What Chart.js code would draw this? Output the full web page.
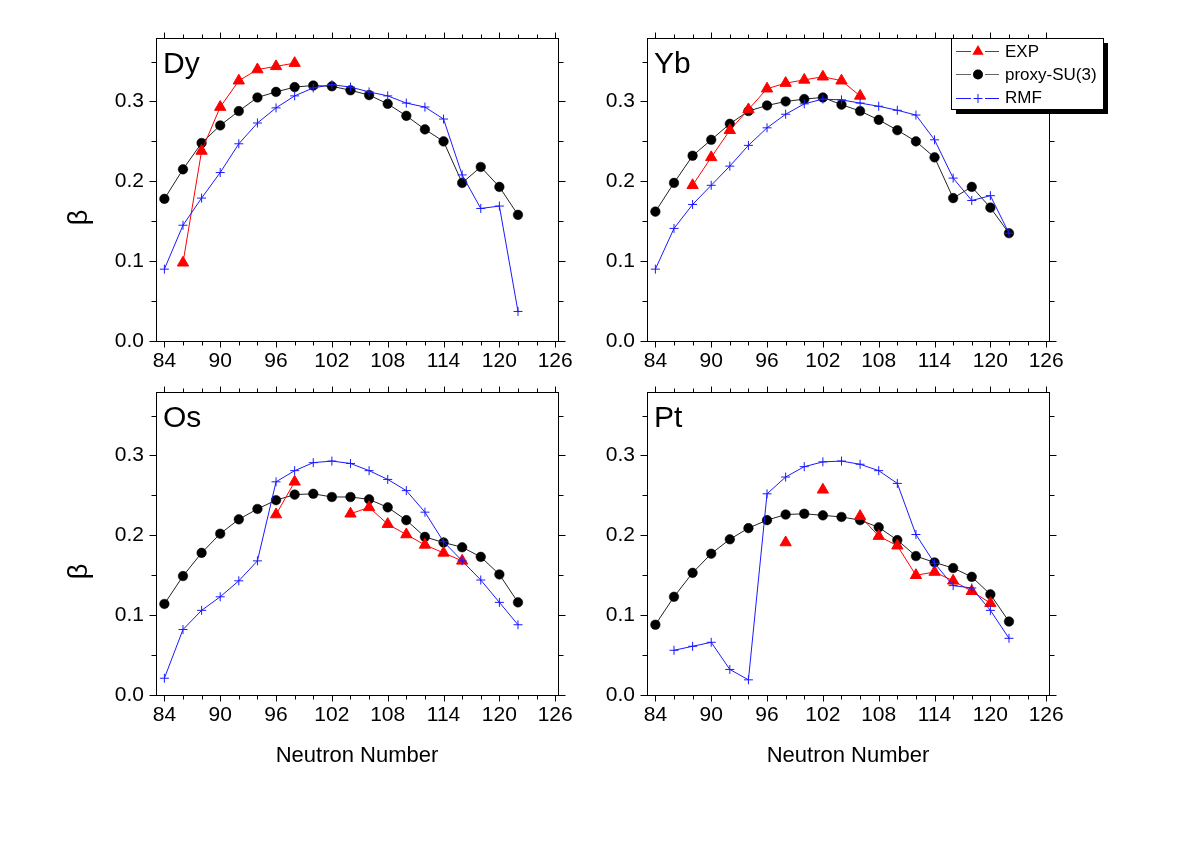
<!DOCTYPE html>
<html>
<head>
<meta charset="utf-8">
<script src="https://cdn.jsdelivr.net/npm/chart.js@4.4.1/dist/chart.umd.min.js"></script>
<style>
  body { margin: 0; background: #fff; }
  #wrap { position: relative; width: 1200px; height: 844px; overflow: hidden; background: #fff; }
  canvas { position: absolute; }
</style>
</head>
<body>
<div id="wrap">
  <canvas id="c-dy"></canvas>
  <canvas id="c-yb"></canvas>
  <canvas id="c-os"></canvas>
  <canvas id="c-pt"></canvas>
</div>
<script>
const FONT = '"Liberation Sans", Arial, Helvetica, sans-serif';

// neutron numbers of the calculated points
const neutrons = [84, 86, 88, 90, 92, 94, 96, 98, 100, 102, 104, 106, 108, 110, 112, 114, 116, 118, 120, 122];

// tick values
const xMajor = [84, 90, 96, 102, 108, 114, 120, 126];
const xMinor = [86, 88, 92, 94, 98, 100, 104, 106, 110, 112, 116, 118, 122, 124];
const yMajor = [0, 0.1, 0.2, 0.3];
const yMinor = [0.05, 0.15, 0.25, 0.35];

const seriesNames = ['EXP', 'proxy-SU(3)', 'RMF'];

// Dy
const dyExp   = [null, 0.098, 0.238, 0.293, 0.326, 0.340, 0.344, 0.348, null, null, null, null, null, null, null, null, null, null, null, null];
const dyProxy = [0.178, 0.215, 0.248, 0.270, 0.288, 0.305, 0.312, 0.318, 0.320, 0.319, 0.314, 0.308, 0.297, 0.282, 0.265, 0.250, 0.198, 0.218, 0.193, 0.158];
const dyRmf   = [0.090, 0.145, 0.179, 0.211, 0.247, 0.273, 0.292, 0.307, 0.317, 0.321, 0.318, 0.312, 0.307, 0.298, 0.293, 0.278, 0.208, 0.166, 0.169, 0.037];

// Yb
const ybExp   = [null, null, 0.195, 0.230, 0.264, 0.290, 0.316, 0.323, 0.327, 0.331, 0.326, 0.307, null, null, null, null, null, null, null, null];
const ybProxy = [0.162, 0.198, 0.232, 0.252, 0.272, 0.288, 0.295, 0.300, 0.303, 0.305, 0.296, 0.288, 0.277, 0.264, 0.250, 0.230, 0.179, 0.193, 0.167, 0.135];
const ybRmf   = [0.090, 0.141, 0.171, 0.195, 0.219, 0.245, 0.267, 0.284, 0.297, 0.303, 0.302, 0.298, 0.294, 0.289, 0.283, 0.252, 0.204, 0.176, 0.182, 0.135];

// Os
const osExp   = [null, null, null, null, null, null, 0.226, 0.267, null, null, 0.227, 0.235, 0.214, 0.201, 0.188, 0.178, 0.168, null, null, null];
const osProxy = [0.114, 0.149, 0.178, 0.202, 0.220, 0.233, 0.244, 0.251, 0.252, 0.248, 0.248, 0.245, 0.235, 0.219, 0.198, 0.191, 0.185, 0.173, 0.151, 0.116];
const osRmf   = [0.021, 0.082, 0.106, 0.123, 0.143, 0.168, 0.267, 0.281, 0.291, 0.293, 0.290, 0.281, 0.270, 0.256, 0.229, 0.192, 0.168, 0.144, 0.116, 0.088];

// Pt
const ptExp   = [null, null, null, null, null, null, null, 0.191, null, 0.257, null, 0.224, 0.199, 0.187, 0.150, 0.154, 0.143, 0.130, 0.115, null];
const ptProxy = [0.088, 0.123, 0.153, 0.177, 0.195, 0.209, 0.219, 0.226, 0.227, 0.225, 0.223, 0.219, 0.210, 0.194, 0.174, 0.166, 0.159, 0.148, 0.126, 0.092];
const ptRmf   = [null, 0.056, 0.061, 0.066, 0.032, 0.019, 0.252, 0.273, 0.286, 0.292, 0.293, 0.289, 0.281, 0.265, 0.201, 0.165, 0.137, 0.134, 0.106, 0.071];

const X_MIN = 83.1, X_MAX = 126.3, Y_MIN = 0, Y_MAX = 0.38;
const PLOT_W = 402, PLOT_H = 308;
const PAD = { l: 100, r: 70, t: 20, b: 80 };

const RED = '#ff0000', BLUE = '#1a1aff', BLACK = '#000000';

const panels = [
  { id: 'c-dy', name: 'Dy', left: 156, top: 33,  exp: dyExp, proxy: dyProxy, rmf: dyRmf, yTitle: true,  xTitle: false, legend: false },
  { id: 'c-yb', name: 'Yb', left: 647, top: 33,  exp: ybExp, proxy: ybProxy, rmf: ybRmf, yTitle: false, xTitle: false, legend: true },
  { id: 'c-os', name: 'Os', left: 156, top: 387, exp: osExp, proxy: osProxy, rmf: osRmf, yTitle: true,  xTitle: true,  legend: false },
  { id: 'c-pt', name: 'Pt', left: 647, top: 387, exp: ptExp, proxy: ptProxy, rmf: ptRmf, yTitle: false, xTitle: true,  legend: false }
];

const toPoints = (vals) => neutrons.map((n, i) => ({ x: n, y: vals[i] }));
const crisp = (v) => Math.round(v) + 0.5;

// frame + ticks on all four sides, pointing outward
const framePlugin = {
  id: 'frame',
  beforeDatasetsDraw(chart) {
    const { ctx, chartArea: a, scales } = chart;
    const x = scales.x, y = scales.y;
    const L = crisp(a.left), R = crisp(a.right), T = crisp(a.top), B = crisp(a.bottom);
    ctx.save();
    ctx.strokeStyle = '#000';
    ctx.lineWidth = 1;
    ctx.strokeRect(L, T, R - L, B - T);
    ctx.beginPath();
    const xt = (v, len) => {
      const px = crisp(x.getPixelForValue(v));
      ctx.moveTo(px, B); ctx.lineTo(px, B + len);
      ctx.moveTo(px, T); ctx.lineTo(px, T - len);
    };
    const yt = (v, len) => {
      const py = crisp(y.getPixelForValue(v));
      ctx.moveTo(L, py); ctx.lineTo(L - len, py);
      ctx.moveTo(R, py); ctx.lineTo(R + len, py);
    };
    xMajor.forEach(v => xt(v, 6));
    xMinor.forEach(v => xt(v, 4));
    yMajor.forEach(v => yt(v, 7));
    yMinor.forEach(v => yt(v, 5));
    ctx.stroke();
    ctx.restore();
  }
};

// element name in the corner, and the rotated beta on the left panels
const labelPlugin = {
  id: 'labels',
  afterDatasetsDraw(chart, args, opts) {
    const { ctx, chartArea: a } = chart;
    ctx.save();
    ctx.fillStyle = '#000';
    ctx.font = `30px ${FONT}`;
    ctx.textAlign = 'left';
    ctx.textBaseline = 'alphabetic';
    ctx.fillText(opts.name, a.left + 7, a.top + 35);
    if (opts.yTitle) {
      ctx.translate(a.left - 76, a.top + 180);
      ctx.rotate(-Math.PI / 2);
      ctx.font = `27px ${FONT}`;
      ctx.textAlign = 'center';
      ctx.textBaseline = 'middle';
      ctx.fillText('β', 0, 0);
    }
    ctx.restore();
  }
};

function drawMarker(ctx, style, cx, cy, color) {
  ctx.fillStyle = color;
  ctx.strokeStyle = color;
  ctx.lineWidth = 1;
  ctx.beginPath();
  if (style === 'triangle') {
    const r = 6.5;
    ctx.moveTo(cx, cy - r);
    ctx.lineTo(cx + r * 0.866, cy + r * 0.5);
    ctx.lineTo(cx - r * 0.866, cy + r * 0.5);
    ctx.closePath();
    ctx.fill();
  } else if (style === 'circle') {
    ctx.arc(cx, cy, 5, 0, Math.PI * 2);
    ctx.fill();
  } else {
    ctx.moveTo(cx - 4.5, cy); ctx.lineTo(cx + 4.5, cy);
    ctx.moveTo(cx, cy - 4.5); ctx.lineTo(cx, cy + 4.5);
    ctx.stroke();
  }
}

const legendPlugin = {
  id: 'boxLegend',
  afterDraw(chart) {
    const { ctx, chartArea: a } = chart;
    const bx = Math.round(a.left + 304), by = Math.round(a.top);
    const rows = [
      { text: seriesNames[0], style: 'triangle', line: RED, mark: RED },
      { text: seriesNames[1], style: 'circle', line: '#666', mark: BLACK },
      { text: seriesNames[2], style: 'cross', line: BLUE, mark: BLUE }
    ];
    ctx.save();
    ctx.font = `17px ${FONT}`;
    const tw = Math.max(...rows.map(r => ctx.measureText(r.text).width));
    const bw = Math.round(54 + tw + 6), bh = 71;
    ctx.fillStyle = '#000';
    ctx.fillRect(bx + 5, by + 5, bw, bh);
    ctx.fillStyle = '#fff';
    ctx.fillRect(bx, by, bw, bh);
    ctx.strokeStyle = '#000';
    ctx.lineWidth = 1;
    ctx.strokeRect(bx + 0.5, by + 0.5, bw, bh);
    rows.forEach((r, i) => {
      const ry = by + 13 + i * 23.3;
      const ly = crisp(ry);
      ctx.strokeStyle = r.line;
      ctx.lineWidth = 1;
      ctx.beginPath();
      ctx.moveTo(bx + 5, ly); ctx.lineTo(bx + 20, ly);
      ctx.moveTo(bx + 34, ly); ctx.lineTo(bx + 48, ly);
      ctx.stroke();
      drawMarker(ctx, r.style, bx + 27, ly, r.mark);
      ctx.fillStyle = '#000';
      ctx.textAlign = 'left';
      ctx.textBaseline = 'middle';
      ctx.fillText(r.text, bx + 54, ry + 1);
    });
    ctx.restore();
  }
};

const tickFont = { family: FONT, size: 21 };

panels.forEach(p => {
  const canvas = document.getElementById(p.id);
  canvas.width = PLOT_W + PAD.l + PAD.r;
  canvas.height = PLOT_H + PAD.t + PAD.b;
  canvas.style.left = (p.left - PAD.l) + 'px';
  canvas.style.top = (p.top - PAD.t) + 'px';

  const plugins = [framePlugin, labelPlugin];
  if (p.legend) plugins.push(legendPlugin);

  new Chart(canvas.getContext('2d'), {
    type: 'line',
    data: {
      datasets: [
        {
          label: seriesNames[2],
          data: toPoints(p.rmf),
          order: 1,
          borderColor: BLUE,
          borderWidth: 1,
          pointStyle: 'cross',
          pointRadius: 4.5,
          pointBorderColor: BLUE,
          pointBorderWidth: 1,
          pointBackgroundColor: BLUE
        },
        {
          label: seriesNames[0],
          data: toPoints(p.exp),
          order: 2,
          borderColor: RED,
          borderWidth: 1,
          pointStyle: 'triangle',
          pointRadius: 6.5,
          pointBorderColor: RED,
          pointBorderWidth: 1,
          pointBackgroundColor: RED
        },
        {
          label: seriesNames[1],
          data: toPoints(p.proxy),
          order: 3,
          borderColor: '#222',
          borderWidth: 1,
          pointStyle: 'circle',
          pointRadius: 4.8,
          pointBorderColor: BLACK,
          pointBorderWidth: 0.5,
          pointBackgroundColor: BLACK
        }
      ]
    },
    options: {
      responsive: false,
      animation: false,
      events: [],
      spanGaps: false,
      layout: { padding: 0 },
      plugins: {
        legend: { display: false },
        tooltip: { enabled: false },
        labels: { name: p.name, yTitle: p.yTitle }
      },
      scales: {
        x: {
          type: 'linear',
          position: 'bottom',
          min: X_MIN,
          max: X_MAX,
          afterBuildTicks: s => { s.ticks = xMajor.map(v => ({ value: v })); },
          afterFit: s => { s.height = PAD.b; },
          grid: { display: false, drawTicks: false },
          border: { display: false },
          ticks: { padding: 8, font: tickFont, color: '#000', maxRotation: 0, autoSkip: false, callback: v => String(v) },
          title: {
            display: p.xTitle,
            text: 'Neutron Number',
            font: { family: FONT, size: 22 },
            color: '#000',
            padding: { top: 0, bottom: 6 }
          }
        },
        x2: {
          type: 'linear',
          position: 'top',
          min: X_MIN,
          max: X_MAX,
          afterFit: s => { s.height = PAD.t; },
          grid: { display: false, drawTicks: false },
          border: { display: false },
          ticks: { display: false }
        },
        y: {
          type: 'linear',
          position: 'left',
          min: Y_MIN,
          max: Y_MAX,
          afterBuildTicks: s => { s.ticks = yMajor.map(v => ({ value: v })); },
          afterFit: s => { s.width = PAD.l; },
          grid: { display: false, drawTicks: false },
          border: { display: false },
          ticks: { padding: 12, font: tickFont, color: '#000', callback: v => v.toFixed(1) }
        },
        y2: {
          type: 'linear',
          position: 'right',
          min: Y_MIN,
          max: Y_MAX,
          afterFit: s => { s.width = PAD.r; },
          grid: { display: false, drawTicks: false },
          border: { display: false },
          ticks: { display: false }
        }
      }
    },
    plugins: plugins
  });
});
</script>
</body>
</html>
